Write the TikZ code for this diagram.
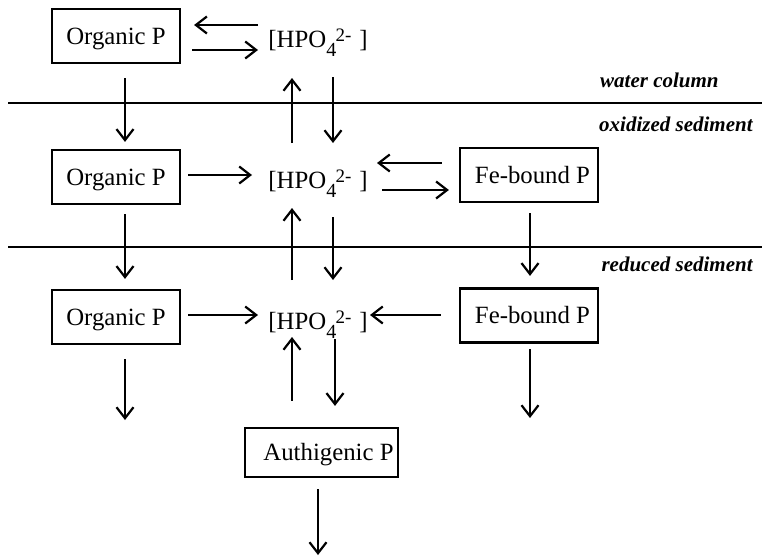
\documentclass[tikz,border=0pt]{standalone}
\usepackage{fontspec}
\setmainfont{Liberation Serif}
\usetikzlibrary{arrows.meta}
\newcommand{\hpotext}{[HPO\raisebox{-4.5pt}{\fontsize{10}{11}\selectfont 4}\kern-0.3pt\raisebox{3pt}{\fontsize{9.5}{11}\selectfont 2-}\kern4pt]}
\begin{document}
\begin{tikzpicture}[x=0.5pt,y=-0.5pt,
  box/.style={draw,line width=1.1pt,rectangle,inner sep=0pt,text height=8.4pt,text depth=0pt,font=\fontsize{12.4}{14}\selectfont},
  chem/.style={inner sep=0pt,anchor=base west,font=\fontsize{12.4}{14}\selectfont},
  zone/.style={inner sep=0pt,anchor=base east,font=\fontsize{10.5}{12}\selectfont\bfseries\itshape},
  arr/.style={line width=1.1pt,-{Straight Barb[length=5.5pt,width=8.5pt]}},
  sep/.style={line width=1.2pt}]
\useasboundingbox (0,0) rectangle (762,557);
% separators
\draw[sep] (8,103) -- (762,103);
\draw[sep] (8,247) -- (762,247);
% zone labels
\node[zone] (wc) at (719,88) {water column};
\node[zone] (ox) at (753,131) {oxidized sediment};
\node[zone] (rd) at (753,271) {reduced sediment};
% boxes
\node[box,minimum width=64pt,minimum height=27pt] (org1) at (116,36) {Organic P};
\node[box,minimum width=64pt,minimum height=27pt] (org2) at (116,177) {Organic P};
\node[box,minimum width=64pt,minimum height=27pt] (org3) at (116,317) {Organic P};
\node[box,minimum width=69pt,minimum height=27pt] (fe2) at (529,175) {\hspace*{3.5pt}Fe-bound P};
\node[box,minimum width=69pt,minimum height=27pt] (fe3) at (529,315.5) {\hspace*{3.5pt}Fe-bound P};
\node[box,minimum width=76.5pt,minimum height=24.5pt] (auth) at (321.5,452.5) {\hspace*{7pt}Authigenic P};
% phosphate
\node[chem] (hpo1) at (268,47) {\hpotext};
\node[chem] (hpo2) at (268,188) {\hpotext};
\node[chem] (hpo3) at (268,329) {\hpotext};
% free ends
\coordinate (o3end) at (125,420);
\coordinate (f3end) at (530,418);
\coordinate (aend) at (318,555);
% row 1
\draw[arr] ([shift={(-10,-22)}]hpo1.base west) -- ([shift={(13,-11)}]org1.east);
\draw[arr] ([shift={(11,14)}]org1.east) -- ([shift={(-10,3)}]hpo1.base west);
% row1 -> row2
\draw[arr] ([shift={(9,14)}]org1.south) -- ([shift={(9,-7)}]org2.north);
\draw[arr] ([shift={(24,-45)}]hpo2.base west) -- ([shift={(24,31)}]hpo1.base west);
\draw[arr] ([shift={(65,30)}]hpo1.base west) -- ([shift={(65,-45)}]hpo2.base west);
% row 2
\draw[arr] ([shift={(7,-2)}]org2.east) -- ([shift={(-16,-13)}]hpo2.base west);
\draw[arr] ([shift={(-17,-12)}]fe2.west) -- ([shift={(109,-25)}]hpo2.base west);
\draw[arr] ([shift={(114,2)}]hpo2.base west) -- ([shift={(-10,15)}]fe2.west);
% row2 -> row3
\draw[arr] ([shift={(9,9)}]org2.south) -- ([shift={(9,-10)}]org3.north);
\draw[arr] ([shift={(24,-49)}]hpo3.base west) -- ([shift={(24,20)}]hpo2.base west);
\draw[arr] ([shift={(65,29)}]hpo2.base west) -- ([shift={(65,-49)}]hpo3.base west);
\draw[arr] ([shift={(1,10)}]fe2.south) -- ([shift={(1,-11.5)}]fe3.north);
% row 3
\draw[arr] ([shift={(7,-2)}]org3.east) -- ([shift={(-10,-14)}]hpo3.base west);
\draw[arr] ([shift={(-18,-0.5)}]fe3.west) -- ([shift={(102,-14)}]hpo3.base west);
% below row 3
\draw[arr] ([shift={(9,14)}]org3.south) -- (o3end);
\draw[arr] ([shift={(-29.5,-26)}]auth.north) -- ([shift={(24,8)}]hpo3.base west);
\draw[arr] ([shift={(67,10)}]hpo3.base west) -- ([shift={(13.5,-21)}]auth.north);
\draw[arr] ([shift={(1,5.5)}]fe3.south) -- (f3end);
\draw[arr] ([shift={(-3.5,11)}]auth.south) -- (aend);
\end{tikzpicture}
\end{document}
